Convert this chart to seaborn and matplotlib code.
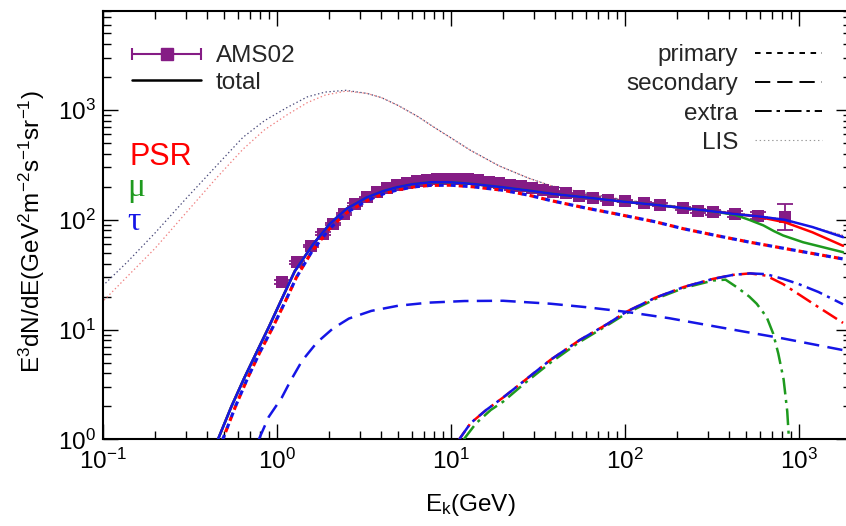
import matplotlib
matplotlib.use('Agg')
import matplotlib.pyplot as plt
from matplotlib.lines import Line2D
from matplotlib.legend_handler import HandlerLine2D
from matplotlib.ticker import NullFormatter
import seaborn as sns

# AMS02 electron data, E^3 dN/dE
ams_e = [1.08, 1.31, 1.57, 1.84, 2.11, 2.45, 2.82, 3.29, 3.76, 4.29, 4.9, 5.6, 6.4, 7.3,
         8.3, 9.5, 10.9, 12.5, 14.3, 16.5, 19, 22, 25.5, 29.5, 34, 39, 46, 55, 66, 80,
         100, 130, 160, 217, 265, 323, 431, 586, 834]
ams_f = [27, 41, 58, 75, 92, 113, 138, 160, 178, 195, 207, 218, 227, 233,
         237, 238, 237, 234, 229, 223, 216, 209, 202, 195, 188, 181, 174, 166, 159, 153,
         148, 142, 137, 127, 121, 117, 113, 109, 107]
ams_lo = [1, 1, 1, 2, 2, 2, 3, 3, 3, 3, 3, 3, 3, 3,
          3, 3, 3, 3, 3, 3, 3, 3, 3, 3, 3, 3, 3, 3, 3, 3,
          3, 4, 4, 5, 5, 6, 6, 8, 26]
ams_hi = [1, 1, 1, 2, 2, 2, 3, 3, 3, 3, 3, 3, 3, 3,
          3, 3, 3, 3, 3, 3, 3, 3, 3, 3, 3, 3, 3, 3, 3, 3,
          3, 4, 4, 5, 5, 6, 7, 9, 31]

# total
tot_tau_e = [0.46, 0.55, 0.65, 0.77, 0.9, 1.07, 1.27, 1.62, 2.02, 2.52, 3.29, 4.1, 4.9, 6.0,
             7.6, 10, 13.5, 20, 28, 39, 60, 100, 150, 200, 300, 431, 600, 834, 1200, 1800]
tot_tau_f = [1.0, 2.0, 3.6, 6.3, 10.5, 19, 34, 60, 92, 126, 160, 183, 198, 211,
             220, 220, 212, 198, 185, 172, 160, 146, 137, 130, 121, 113, 107, 100, 86, 69.5]
tot_psr_e = [0.46, 0.55, 0.65, 0.77, 0.9, 1.07, 1.27, 1.62, 2.02, 2.52, 3.29, 4.1, 4.9, 6.0,
             7.6, 10, 13.5, 20, 28, 39, 60, 100, 150, 200, 300, 431, 560, 834, 1200, 1800]
tot_psr_f = [1.0, 2.0, 3.6, 6.3, 10.5, 19, 34, 60, 92, 126, 160, 183, 198, 211,
             220, 220, 212, 198, 185, 172, 160, 146, 137, 130, 121, 113, 108, 95, 77, 58]
tot_mu_e = [0.46, 0.55, 0.65, 0.77, 0.9, 1.07, 1.27, 1.62, 2.02, 2.52, 3.29, 4.1, 4.9, 6.0,
            7.6, 10, 13.5, 20, 28, 39, 60, 100, 150, 200, 300, 350, 431, 520, 627, 720, 815,
            1060, 1400, 1800]
tot_mu_f = [1.0, 2.0, 3.6, 6.3, 10.5, 19, 34, 60, 92, 126, 160, 183, 198, 211,
            220, 220, 212, 198, 185, 172, 160, 146, 137, 130, 121, 117, 111, 100, 89, 79, 72,
            62.5, 56, 50.7]

# primary
prim_e = [0.49, 0.58, 0.68, 0.8, 0.95, 1.12, 1.3, 1.6, 2.0, 2.5, 3.3, 4.2, 5, 6.2, 7.6, 10,
          13.5, 20, 28, 37.5, 60, 90, 150, 217, 350, 525, 1000, 1800]
prim_f = [1, 2, 3.6, 6.2, 10.5, 18, 30, 52, 82, 115, 150, 175, 188, 200, 206, 207,
          200, 186, 168, 150, 128, 113, 96, 83, 71, 62.5, 52, 44]

# secondary
sec_e = [0.79, 0.9, 1.07, 1.2, 1.4, 1.7, 2.1, 2.6, 3.5, 5, 7.5, 12, 20, 37.5, 60, 102,
         180, 271, 500, 813, 1800]
sec_f = [1, 1.6, 2.4, 3.4, 5.2, 7.6, 10.2, 12.6, 14.8, 16.5, 17.6, 18.2, 18.3, 17.2, 16,
         14.5, 12.7, 11.3, 9.5, 8.3, 6.5]

# extra
ext_tau_e = [11.2, 13, 16, 20, 27, 37.5, 55, 80, 102, 150, 220, 323, 420, 525, 650, 813,
             1000, 1300, 1800]
ext_tau_f = [1, 1.4, 1.85, 2.4, 3.5, 5.3, 8, 11.3, 14.5, 19.5, 24.5, 29, 31.5, 32.5, 32, 29,
             26, 22, 17]
ext_psr_e = [11.2, 13, 16, 20, 27, 37.5, 55, 80, 102, 150, 220, 323, 420, 525, 650, 813,
             1000, 1300, 1800]
ext_psr_f = [1, 1.4, 1.85, 2.4, 3.5, 5.3, 8, 11.3, 14.5, 19.5, 24.5, 29, 31.5, 32.5, 31, 26,
             21, 16, 11.5]
ext_mu_e = [11.9, 14, 17, 20, 27, 37.5, 55, 80, 102, 150, 220, 323, 380, 440, 520, 574, 655,
            714, 764, 820, 860, 880]
ext_mu_f = [1, 1.4, 1.85, 2.2, 3.3, 5.0, 7.7, 11, 14, 19, 24, 28, 28.5, 24.4, 20, 17.2, 13,
            9.2, 6.05, 3.5, 1.8, 1.0]

# LIS
lis_a_e = [0.1, 0.14, 0.2, 0.3, 0.45, 0.64, 0.85, 1.14, 1.5, 1.9, 2.5, 3.3, 4, 5, 6.5, 8, 10,
           13, 19, 28, 37.5, 60, 100, 200, 431, 834, 1800]
lis_a_f = [25, 42, 76, 155, 310, 565, 800, 1050, 1320, 1460, 1515, 1420, 1300, 1100, 870, 700,
           560, 430, 310, 240, 205, 175, 152, 133, 116, 101, 72]
lis_b_e = [0.1, 0.14, 0.2, 0.3, 0.45, 0.64, 0.85, 1.14, 1.5, 1.9, 2.5, 3.3, 4, 5, 6.5, 8, 10,
           13, 19, 28, 37.5, 60, 100, 200, 431, 834, 1800]
lis_b_f = [18, 31, 55, 115, 240, 440, 660, 900, 1170, 1370, 1490, 1420, 1300, 1100, 870, 700,
           560, 430, 310, 240, 205, 175, 152, 133, 116, 101, 72]

RED = '#ff0000'
GREEN = '#1e9a1e'
BLUE = '#1515e6'
PURPLE = '#851c85'

sns.set_theme(style='ticks')
plt.rcParams['font.family'] = ['Liberation Sans', 'DejaVu Sans']
plt.rcParams['mathtext.default'] = 'regular'
plt.rcParams['lines.scale_dashes'] = False

FS = 17.5
fig = plt.figure(figsize=(8.46, 5.26), dpi=100)
ax = fig.add_axes([102.7 / 846, 86.7 / 526, 748.3 / 846, 428.3 / 526])
ax.set_xscale('log')
ax.set_yscale('log')


def axx(px):
    return (px - 102.7) / 748.3


def axy(py):
    return (439.3 - py) / 428.3


DOT = (0, (3.4, 5.2))
DASH = (0, (11, 6))
DASHDOT = (0, (12, 4, 2.2, 4))
LISDOT = (0, (1.0, 1.8))

# LIS
sns.lineplot(x=lis_b_e, y=lis_b_f, ax=ax, color='#f08080', linewidth=0.9,
             linestyle=(1.4, (1.0, 1.8)), estimator=None, zorder=2)
sns.lineplot(x=lis_a_e, y=lis_a_f, ax=ax, color='#4a4a7a', linewidth=0.9,
             linestyle=LISDOT, estimator=None, zorder=2)

# data: bars under the squares
ax.errorbar(ams_e, ams_f, yerr=[ams_lo, ams_hi], fmt='none', ecolor=PURPLE,
            elinewidth=1.3, capsize=6, capthick=1.3, zorder=3)
sns.scatterplot(x=ams_e, y=ams_f, ax=ax, marker='s', s=72, color=PURPLE,
                linewidth=0, zorder=3.5)

# extra
sns.lineplot(x=ext_mu_e, y=ext_mu_f, ax=ax, color=GREEN, linewidth=1.8,
             linestyle=DASHDOT, estimator=None, zorder=4)
sns.lineplot(x=ext_psr_e, y=ext_psr_f, ax=ax, color=RED, linewidth=1.8,
             linestyle=(5, (12, 4, 2.2, 4)), estimator=None, zorder=4)
sns.lineplot(x=ext_tau_e, y=ext_tau_f, ax=ax, color=BLUE, linewidth=1.8,
             linestyle=DASHDOT, estimator=None, zorder=4)

# secondary
sns.lineplot(x=sec_e, y=sec_f, ax=ax, color=BLUE, linewidth=1.8,
             linestyle=DASH, estimator=None, zorder=4)

# primary
sns.lineplot(x=prim_e, y=prim_f, ax=ax, color=RED, linewidth=2.3,
             linestyle=(3.0, (3.4, 5.2)), estimator=None, zorder=4)
sns.lineplot(x=prim_e, y=prim_f, ax=ax, color=BLUE, linewidth=2.3,
             linestyle=DOT, estimator=None, zorder=4)

# total
sns.lineplot(x=tot_psr_e, y=tot_psr_f, ax=ax, color=RED, linewidth=1.8,
             estimator=None, zorder=5)
sns.lineplot(x=tot_mu_e, y=tot_mu_f, ax=ax, color=GREEN, linewidth=1.8,
             estimator=None, zorder=5)
sns.lineplot(x=tot_tau_e, y=tot_tau_f, ax=ax, color=BLUE, linewidth=1.8,
             estimator=None, zorder=6)

ax.set_xlim(0.1, 2000)
ax.set_ylim(1, 8000)

ax.tick_params(which='both', direction='in', top=True, right=True, labelsize=FS,
               color='black', labelcolor='black')
ax.tick_params(which='major', length=11, width=1.0)
ax.tick_params(which='minor', length=5.5, width=1.0)
ax.tick_params(axis='x', pad=7)
ax.tick_params(axis='y', pad=5)
ax.xaxis.set_minor_formatter(NullFormatter())
ax.yaxis.set_minor_formatter(NullFormatter())
for s in ax.spines.values():
    s.set_linewidth(1.5)
    s.set_color('black')

ax.set_xlabel(r'E$_{k}$(GeV)', fontsize=FS, color='black')
ax.set_ylabel(r'E$^{3}$dN/dE(GeV$^{2}$m$^{-2}$s$^{-1}$sr$^{-1}$)', fontsize=FS, color='black')
ax.xaxis.set_label_coords(axx(470), axy(492))
ax.yaxis.set_label_coords(axx(47), axy(232))

ax.text(axx(130), axy(165), 'PSR', color=RED, fontsize=22, transform=ax.transAxes,
        va='baseline', ha='left')
ax.text(axx(127), axy(196), '\u03bc', color=GREEN, fontsize=24, transform=ax.transAxes,
        va='baseline', ha='left', family=['Liberation Serif', 'DejaVu Serif'])
ax.text(axx(127), axy(230), '\u03c4', color=BLUE, fontsize=24, transform=ax.transAxes,
        va='baseline', ha='left', family=['Liberation Serif', 'DejaVu Serif'])

# legends
cap = Line2D([], [], color=PURPLE, lw=1.5, marker='|', markersize=8, mew=1.5)
sq = Line2D([], [], color=PURPLE, lw=0, marker='s', markersize=8.5)
tot = Line2D([], [], color='black', lw=1.8)
leg1 = ax.legend([(cap, sq), tot], ['AMS02', 'total'], loc='upper left',
                 bbox_to_anchor=(axx(132), axy(45)), borderaxespad=0, borderpad=0,
                 frameon=False, handlelength=2.85, handletextpad=0.6, labelspacing=0.2,
                 fontsize=FS,
                 handler_map={cap: HandlerLine2D(numpoints=2, marker_pad=0),
                              sq: HandlerLine2D(numpoints=1)})
ax.add_artist(leg1)

h_prim = Line2D([], [], color='black', lw=1.4, linestyle=(0, (4, 4)))
h_sec = Line2D([], [], color='black', lw=1.4, linestyle=(0, (11, 5)))
h_ext = Line2D([], [], color='black', lw=1.4, linestyle=(0, (12, 3.5, 2.5, 3.5)))
h_lis = Line2D([], [], color='#999999', lw=0.8, linestyle=(0, (1, 2)))
ax.legend([h_prim, h_sec, h_ext, h_lis], ['primary', 'secondary', 'extra', 'LIS'],
          loc='upper right', bbox_to_anchor=(axx(822), axy(44)), borderaxespad=0,
          borderpad=0, frameon=False, markerfirst=False, handlelength=2.75,
          handletextpad=0.7, labelspacing=0.3, fontsize=FS)

fig.savefig('out.png', dpi=100)
